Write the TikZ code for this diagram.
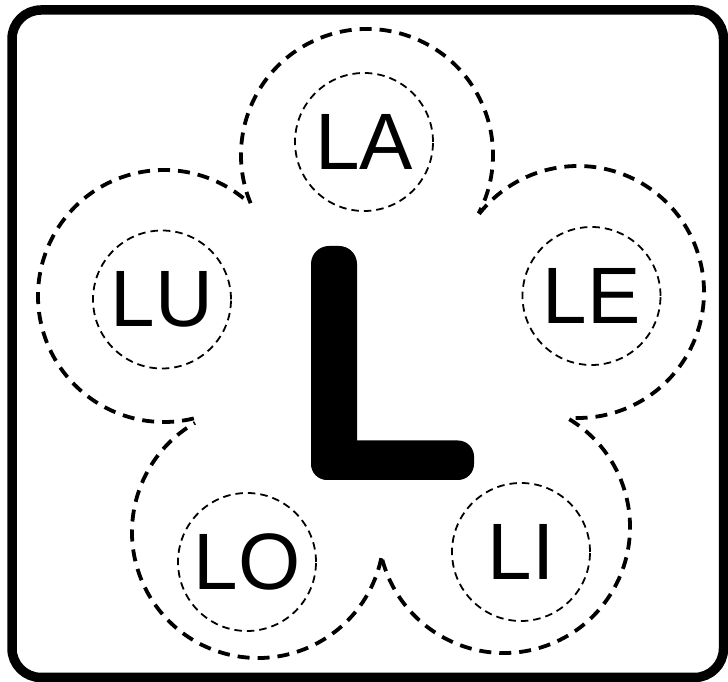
\documentclass[tikz,border=0pt]{standalone}
\usepackage{fontspec}
\setmainfont{Liberation Sans}
\begin{document}
\begin{tikzpicture}[x=1pt,y=1pt,
  syl/.style={draw, circle, line width=1.8pt, dash pattern=on 7.5pt off 5pt, minimum size=138pt, inner sep=0pt, font=\fontsize{80}{80}\selectfont},
  petal/.style={line width=3.8pt, dash pattern=on 12pt off 8pt},
  frame/.style={line width=9.5pt, rounded corners=29pt}]
\useasboundingbox (0,0) rectangle (728,682);
\draw[frame] (12,4.5) rectangle (723.5,672);
% the five syllables
\node[syl] (la) at (364,540) {LA};
\node[syl] (le) at (591.5,386) {LE};
\node[syl] (li) at (521,130) {LI};
\node[syl] (lo) at (247,120) {LO};
\node[syl] (lu) at (162,382.5) {LU};
% petals of the outline
\coordinate (pa) at (367,527);
\coordinate (pe) at (578,390);
\coordinate (pi) at (504,155);
\coordinate (po) at (258,150);
\coordinate (pu) at (164,386);
\foreach \c/\s/\e in {pa/202.5/-27.6, pe/141.7/-93.6, pi/58.8/-166, po/-12/-240, pu/283.7/47.3}
  \draw[petal] (\c) ++(\s:126) arc[start angle=\s, end angle=\e, radius=126];
% big L
\fill[rounded corners=18pt] (311,202) rectangle (357,436);
\fill[rounded corners=16pt] (311,202) rectangle (474,241.5);
\end{tikzpicture}
\end{document}
